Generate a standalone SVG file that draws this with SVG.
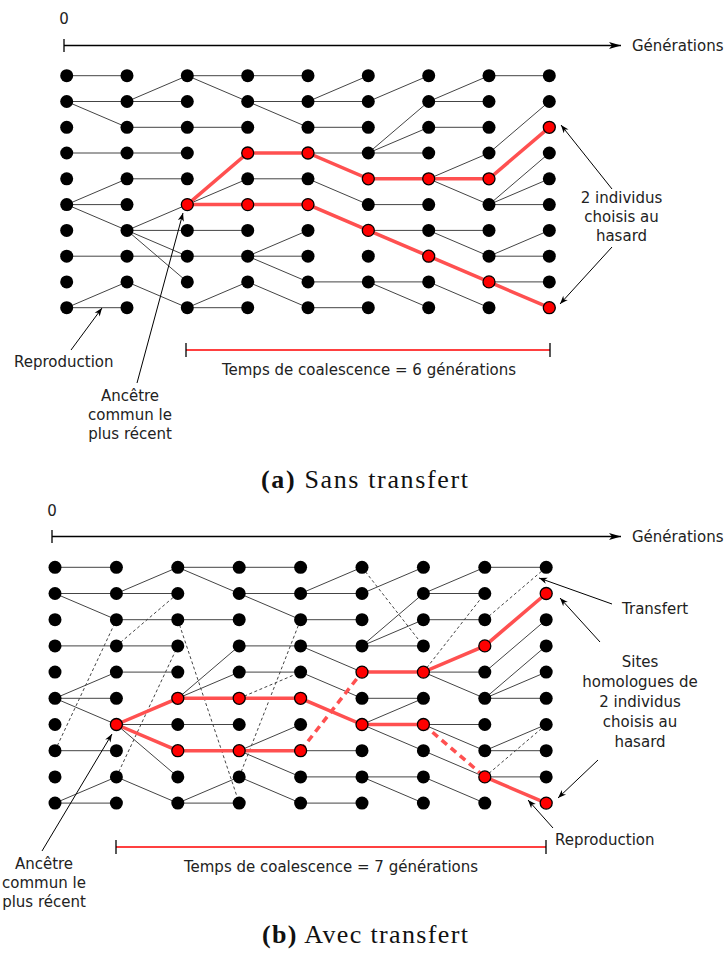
<svg xmlns="http://www.w3.org/2000/svg" width="728" height="962" viewBox="0 0 728 962">
<defs>
<style>
.e{stroke:#444;stroke-width:1;fill:none}
.d{stroke:#444;stroke-width:1;stroke-dasharray:3,2.5;fill:none}
.r{stroke:#ff5050;stroke-width:3.5;fill:none}
.rd{stroke:#ff5050;stroke-width:3.5;stroke-dasharray:7,5;fill:none}
.n{fill:#000}
.nr{fill:#ff0000;stroke:#000;stroke-width:1.3}
.ax{stroke:#000;stroke-width:1.3;fill:none}
.an{stroke:#000;stroke-width:1;fill:none}
.br{stroke:#ff0000;stroke-width:1.6}
.tk{stroke:#000;stroke-width:1.3}
text{font-family:"DejaVu Sans","Liberation Sans",sans-serif;font-size:15px;fill:#222}
.cap{font-family:"Liberation Serif","DejaVu Serif",serif;font-size:26px;fill:#111}
</style>
<marker id="big" markerUnits="userSpaceOnUse" markerWidth="14" markerHeight="10" viewBox="-13 -5 14 10" refX="0" refY="0" orient="auto"><path d="M0,0 L-12,-3.6 L-9,0 L-12,3.6 Z" fill="#000"/></marker>
<marker id="sm" markerUnits="userSpaceOnUse" markerWidth="10" markerHeight="8" viewBox="-10 -4 11 8" refX="0" refY="0" orient="auto"><path d="M0,0 L-9,-3.4 L-6.5,0 L-9,3.4 Z" fill="#000"/></marker>
</defs>
<rect width="728" height="962" fill="#fff"/>

<!-- ===== Panel (a) ===== -->
<g id="a-axis">
<text x="64" y="23.5" text-anchor="middle">0</text>
<line class="tk" x1="64" y1="39" x2="64" y2="52"/>
<line class="ax" x1="64" y1="45.5" x2="621" y2="45.5" marker-end="url(#big)"/>
<text x="632" y="51">Générations</text>
</g>

<g id="a-connectors">
<!-- c0-c1 -->
<line class="e" x1="66.7" y1="75.7" x2="127" y2="75.7"/>
<line class="e" x1="66.7" y1="101.5" x2="127" y2="101.5"/>
<line class="e" x1="66.7" y1="101.5" x2="127" y2="127.3"/>
<line class="e" x1="66.7" y1="153" x2="127" y2="153"/>
<line class="e" x1="66.7" y1="204.6" x2="127" y2="178.8"/>
<line class="e" x1="66.7" y1="204.6" x2="127" y2="204.6"/>
<line class="e" x1="66.7" y1="204.6" x2="127" y2="230.4"/>
<line class="e" x1="66.7" y1="256.2" x2="127" y2="256.2"/>
<line class="e" x1="66.7" y1="307.7" x2="127" y2="281.9"/>
<line class="e" x1="66.7" y1="307.7" x2="127" y2="307.7"/>
<!-- c1-c2 -->
<line class="e" x1="127" y1="101.5" x2="187.3" y2="75.7"/>
<line class="e" x1="127" y1="101.5" x2="187.3" y2="101.5"/>
<line class="e" x1="127" y1="127.3" x2="187.3" y2="127.3"/>
<line class="e" x1="127" y1="153" x2="187.3" y2="153"/>
<line class="e" x1="127" y1="178.8" x2="187.3" y2="178.8"/>
<line class="e" x1="127" y1="230.4" x2="187.3" y2="204.6"/>
<line class="e" x1="127" y1="230.4" x2="187.3" y2="230.4"/>
<line class="e" x1="127" y1="230.4" x2="187.3" y2="256.2"/>
<line class="e" x1="127" y1="230.4" x2="187.3" y2="281.9"/>
<line class="e" x1="127" y1="256.2" x2="187.3" y2="256.2"/>
<line class="e" x1="127" y1="281.9" x2="187.3" y2="307.7"/>
<!-- c2-c3 -->
<line class="e" x1="187.3" y1="75.7" x2="247.7" y2="75.7"/>
<line class="e" x1="187.3" y1="75.7" x2="247.7" y2="101.5"/>
<line class="e" x1="187.3" y1="127.3" x2="247.7" y2="127.3"/>
<line class="e" x1="187.3" y1="204.6" x2="247.7" y2="178.8"/>
<line class="e" x1="187.3" y1="230.4" x2="247.7" y2="230.4"/>
<line class="e" x1="187.3" y1="256.2" x2="247.7" y2="256.2"/>
<line class="e" x1="187.3" y1="307.7" x2="247.7" y2="281.9"/>
<line class="e" x1="187.3" y1="307.7" x2="247.7" y2="307.7"/>
<!-- c3-c4 -->
<line class="e" x1="247.7" y1="75.7" x2="308" y2="75.7"/>
<line class="e" x1="247.7" y1="101.5" x2="308" y2="101.5"/>
<line class="e" x1="247.7" y1="101.5" x2="308" y2="127.3"/>
<line class="e" x1="247.7" y1="178.8" x2="308" y2="178.8"/>
<line class="e" x1="247.7" y1="256.2" x2="308" y2="230.4"/>
<line class="e" x1="247.7" y1="256.2" x2="308" y2="256.2"/>
<line class="e" x1="247.7" y1="256.2" x2="308" y2="281.9"/>
<line class="e" x1="247.7" y1="281.9" x2="308" y2="307.7"/>
<!-- c4-c5 -->
<line class="e" x1="308" y1="101.5" x2="368.3" y2="75.7"/>
<line class="e" x1="308" y1="101.5" x2="368.3" y2="101.5"/>
<line class="e" x1="308" y1="127.3" x2="368.3" y2="127.3"/>
<line class="e" x1="308" y1="153" x2="368.3" y2="153"/>
<line class="e" x1="308" y1="178.8" x2="368.3" y2="204.6"/>
<line class="e" x1="308" y1="281.9" x2="368.3" y2="281.9"/>
<line class="e" x1="308" y1="307.7" x2="368.3" y2="307.7"/>
<!-- c5-c6 -->
<line class="e" x1="368.3" y1="101.5" x2="428.7" y2="75.7"/>
<line class="e" x1="368.3" y1="153" x2="428.7" y2="101.5"/>
<line class="e" x1="368.3" y1="153" x2="428.7" y2="127.3"/>
<line class="e" x1="368.3" y1="153" x2="428.7" y2="153"/>
<line class="e" x1="368.3" y1="204.6" x2="428.7" y2="204.6"/>
<line class="e" x1="368.3" y1="230.4" x2="428.7" y2="230.4"/>
<line class="e" x1="368.3" y1="281.9" x2="428.7" y2="281.9"/>
<line class="e" x1="368.3" y1="281.9" x2="428.7" y2="307.7"/>
<!-- c6-c7 -->
<line class="e" x1="428.7" y1="101.5" x2="489" y2="75.7"/>
<line class="e" x1="428.7" y1="101.5" x2="489" y2="101.5"/>
<line class="e" x1="428.7" y1="127.3" x2="489" y2="127.3"/>
<line class="e" x1="428.7" y1="178.8" x2="489" y2="153"/>
<line class="e" x1="428.7" y1="178.8" x2="489" y2="204.6"/>
<line class="e" x1="428.7" y1="230.4" x2="489" y2="230.4"/>
<line class="e" x1="428.7" y1="230.4" x2="489" y2="256.2"/>
<line class="e" x1="428.7" y1="281.9" x2="489" y2="307.7"/>
<!-- c7-c8 -->
<line class="e" x1="489" y1="75.7" x2="549.3" y2="75.7"/>
<line class="e" x1="489" y1="153" x2="549.3" y2="101.5"/>
<line class="e" x1="489" y1="204.6" x2="549.3" y2="153"/>
<line class="e" x1="489" y1="204.6" x2="549.3" y2="178.8"/>
<line class="e" x1="489" y1="204.6" x2="549.3" y2="204.6"/>
<line class="e" x1="489" y1="256.2" x2="549.3" y2="230.4"/>
<line class="e" x1="489" y1="256.2" x2="549.3" y2="256.2"/>
<line class="e" x1="489" y1="281.9" x2="549.3" y2="281.9"/>
<!-- red lineages -->
<polyline class="r" points="187.3,204.6 247.7,153 308,153 368.3,178.8 428.7,178.8 489,178.8 549.3,127.3"/>
<polyline class="r" points="187.3,204.6 247.7,204.6 308,204.6 368.3,230.4 428.7,256.2 489,281.9 549.3,307.7"/>
</g>

<g id="a-nodes">
<g id="a-0-0"><circle class="n" cx="66.7" cy="75.7" r="6.5"/></g>
<g id="a-0-1"><circle class="n" cx="66.7" cy="101.5" r="6.5"/></g>
<g id="a-0-2"><circle class="n" cx="66.7" cy="127.3" r="6.5"/></g>
<g id="a-0-3"><circle class="n" cx="66.7" cy="153" r="6.5"/></g>
<g id="a-0-4"><circle class="n" cx="66.7" cy="178.8" r="6.5"/></g>
<g id="a-0-5"><circle class="n" cx="66.7" cy="204.6" r="6.5"/></g>
<g id="a-0-6"><circle class="n" cx="66.7" cy="230.4" r="6.5"/></g>
<g id="a-0-7"><circle class="n" cx="66.7" cy="256.2" r="6.5"/></g>
<g id="a-0-8"><circle class="n" cx="66.7" cy="281.9" r="6.5"/></g>
<g id="a-0-9"><circle class="n" cx="66.7" cy="307.7" r="6.5"/></g>
<g id="a-1-0"><circle class="n" cx="127" cy="75.7" r="6.5"/></g>
<g id="a-1-1"><circle class="n" cx="127" cy="101.5" r="6.5"/></g>
<g id="a-1-2"><circle class="n" cx="127" cy="127.3" r="6.5"/></g>
<g id="a-1-3"><circle class="n" cx="127" cy="153" r="6.5"/></g>
<g id="a-1-4"><circle class="n" cx="127" cy="178.8" r="6.5"/></g>
<g id="a-1-5"><circle class="n" cx="127" cy="204.6" r="6.5"/></g>
<g id="a-1-6"><circle class="n" cx="127" cy="230.4" r="6.5"/></g>
<g id="a-1-7"><circle class="n" cx="127" cy="256.2" r="6.5"/></g>
<g id="a-1-8"><circle class="n" cx="127" cy="281.9" r="6.5"/></g>
<g id="a-1-9"><circle class="n" cx="127" cy="307.7" r="6.5"/></g>
<g id="a-2-0"><circle class="n" cx="187.3" cy="75.7" r="6.5"/></g>
<g id="a-2-1"><circle class="n" cx="187.3" cy="101.5" r="6.5"/></g>
<g id="a-2-2"><circle class="n" cx="187.3" cy="127.3" r="6.5"/></g>
<g id="a-2-3"><circle class="n" cx="187.3" cy="153" r="6.5"/></g>
<g id="a-2-4"><circle class="n" cx="187.3" cy="178.8" r="6.5"/></g>
<g id="a-2-5"><circle class="nr" cx="187.3" cy="204.6" r="6"/></g>
<g id="a-2-6"><circle class="n" cx="187.3" cy="230.4" r="6.5"/></g>
<g id="a-2-7"><circle class="n" cx="187.3" cy="256.2" r="6.5"/></g>
<g id="a-2-8"><circle class="n" cx="187.3" cy="281.9" r="6.5"/></g>
<g id="a-2-9"><circle class="n" cx="187.3" cy="307.7" r="6.5"/></g>
<g id="a-3-0"><circle class="n" cx="247.7" cy="75.7" r="6.5"/></g>
<g id="a-3-1"><circle class="n" cx="247.7" cy="101.5" r="6.5"/></g>
<g id="a-3-2"><circle class="n" cx="247.7" cy="127.3" r="6.5"/></g>
<g id="a-3-3"><circle class="nr" cx="247.7" cy="153" r="6"/></g>
<g id="a-3-4"><circle class="n" cx="247.7" cy="178.8" r="6.5"/></g>
<g id="a-3-5"><circle class="nr" cx="247.7" cy="204.6" r="6"/></g>
<g id="a-3-6"><circle class="n" cx="247.7" cy="230.4" r="6.5"/></g>
<g id="a-3-7"><circle class="n" cx="247.7" cy="256.2" r="6.5"/></g>
<g id="a-3-8"><circle class="n" cx="247.7" cy="281.9" r="6.5"/></g>
<g id="a-3-9"><circle class="n" cx="247.7" cy="307.7" r="6.5"/></g>
<g id="a-4-0"><circle class="n" cx="308" cy="75.7" r="6.5"/></g>
<g id="a-4-1"><circle class="n" cx="308" cy="101.5" r="6.5"/></g>
<g id="a-4-2"><circle class="n" cx="308" cy="127.3" r="6.5"/></g>
<g id="a-4-3"><circle class="nr" cx="308" cy="153" r="6"/></g>
<g id="a-4-4"><circle class="n" cx="308" cy="178.8" r="6.5"/></g>
<g id="a-4-5"><circle class="nr" cx="308" cy="204.6" r="6"/></g>
<g id="a-4-6"><circle class="n" cx="308" cy="230.4" r="6.5"/></g>
<g id="a-4-7"><circle class="n" cx="308" cy="256.2" r="6.5"/></g>
<g id="a-4-8"><circle class="n" cx="308" cy="281.9" r="6.5"/></g>
<g id="a-4-9"><circle class="n" cx="308" cy="307.7" r="6.5"/></g>
<g id="a-5-0"><circle class="n" cx="368.3" cy="75.7" r="6.5"/></g>
<g id="a-5-1"><circle class="n" cx="368.3" cy="101.5" r="6.5"/></g>
<g id="a-5-2"><circle class="n" cx="368.3" cy="127.3" r="6.5"/></g>
<g id="a-5-3"><circle class="n" cx="368.3" cy="153" r="6.5"/></g>
<g id="a-5-4"><circle class="nr" cx="368.3" cy="178.8" r="6"/></g>
<g id="a-5-5"><circle class="n" cx="368.3" cy="204.6" r="6.5"/></g>
<g id="a-5-6"><circle class="nr" cx="368.3" cy="230.4" r="6"/></g>
<g id="a-5-7"><circle class="n" cx="368.3" cy="256.2" r="6.5"/></g>
<g id="a-5-8"><circle class="n" cx="368.3" cy="281.9" r="6.5"/></g>
<g id="a-5-9"><circle class="n" cx="368.3" cy="307.7" r="6.5"/></g>
<g id="a-6-0"><circle class="n" cx="428.7" cy="75.7" r="6.5"/></g>
<g id="a-6-1"><circle class="n" cx="428.7" cy="101.5" r="6.5"/></g>
<g id="a-6-2"><circle class="n" cx="428.7" cy="127.3" r="6.5"/></g>
<g id="a-6-3"><circle class="n" cx="428.7" cy="153" r="6.5"/></g>
<g id="a-6-4"><circle class="nr" cx="428.7" cy="178.8" r="6"/></g>
<g id="a-6-5"><circle class="n" cx="428.7" cy="204.6" r="6.5"/></g>
<g id="a-6-6"><circle class="n" cx="428.7" cy="230.4" r="6.5"/></g>
<g id="a-6-7"><circle class="nr" cx="428.7" cy="256.2" r="6"/></g>
<g id="a-6-8"><circle class="n" cx="428.7" cy="281.9" r="6.5"/></g>
<g id="a-6-9"><circle class="n" cx="428.7" cy="307.7" r="6.5"/></g>
<g id="a-7-0"><circle class="n" cx="489" cy="75.7" r="6.5"/></g>
<g id="a-7-1"><circle class="n" cx="489" cy="101.5" r="6.5"/></g>
<g id="a-7-2"><circle class="n" cx="489" cy="127.3" r="6.5"/></g>
<g id="a-7-3"><circle class="n" cx="489" cy="153" r="6.5"/></g>
<g id="a-7-4"><circle class="nr" cx="489" cy="178.8" r="6"/></g>
<g id="a-7-5"><circle class="n" cx="489" cy="204.6" r="6.5"/></g>
<g id="a-7-6"><circle class="n" cx="489" cy="230.4" r="6.5"/></g>
<g id="a-7-7"><circle class="n" cx="489" cy="256.2" r="6.5"/></g>
<g id="a-7-8"><circle class="nr" cx="489" cy="281.9" r="6"/></g>
<g id="a-7-9"><circle class="n" cx="489" cy="307.7" r="6.5"/></g>
<g id="a-8-0"><circle class="n" cx="549.3" cy="75.7" r="6.5"/></g>
<g id="a-8-1"><circle class="n" cx="549.3" cy="101.5" r="6.5"/></g>
<g id="a-8-2"><circle class="nr" cx="549.3" cy="127.3" r="6"/></g>
<g id="a-8-3"><circle class="n" cx="549.3" cy="153" r="6.5"/></g>
<g id="a-8-4"><circle class="n" cx="549.3" cy="178.8" r="6.5"/></g>
<g id="a-8-5"><circle class="n" cx="549.3" cy="204.6" r="6.5"/></g>
<g id="a-8-6"><circle class="n" cx="549.3" cy="230.4" r="6.5"/></g>
<g id="a-8-7"><circle class="n" cx="549.3" cy="256.2" r="6.5"/></g>
<g id="a-8-8"><circle class="n" cx="549.3" cy="281.9" r="6.5"/></g>
<g id="a-8-9"><circle class="nr" cx="549.3" cy="307.7" r="6"/></g>
</g>

<g id="a-labels">
<text x="621.5" y="203" text-anchor="middle">2 individus</text>
<text x="621.5" y="222" text-anchor="middle">choisis au</text>
<text x="621.5" y="241" text-anchor="middle">hasard</text>
<line class="an" x1="612" y1="189" x2="561" y2="125" marker-end="url(#sm)"/>
<line class="an" x1="612" y1="247" x2="560" y2="304" marker-end="url(#sm)"/>
<text x="14" y="366.5">Reproduction</text>
<line class="an" x1="71" y1="350" x2="102" y2="308" marker-end="url(#sm)"/>
<text x="130" y="401" text-anchor="middle">Ancêtre</text>
<text x="130" y="420" text-anchor="middle">commun le</text>
<text x="130" y="439" text-anchor="middle">plus récent</text>
<line class="an" x1="137" y1="383" x2="183" y2="213" marker-end="url(#sm)"/>
<line class="br" x1="186" y1="350" x2="550" y2="350"/>
<line class="tk" x1="186" y1="343" x2="186" y2="357"/>
<line class="tk" x1="550" y1="343" x2="550" y2="357"/>
<text x="369" y="375" text-anchor="middle">Temps de coalescence = 6 générations</text>
<text class="cap" x="261" y="488" textLength="207" lengthAdjust="spacing"><tspan font-weight="bold">(a)</tspan> Sans transfert</text>
</g>

<!-- ===== Panel (b) ===== -->
<g id="b-axis">
<text x="52" y="516" text-anchor="middle">0</text>
<line class="tk" x1="52" y1="530" x2="52" y2="543"/>
<line class="ax" x1="52" y1="536.5" x2="621" y2="536.5" marker-end="url(#big)"/>
<text x="632" y="542">Générations</text>
</g>

<g id="b-connectors">
<!-- c0-c1 -->
<line class="e" x1="55" y1="567.3" x2="116.4" y2="567.3"/>
<line class="e" x1="55" y1="593.5" x2="116.4" y2="593.5"/>
<line class="e" x1="55" y1="593.5" x2="116.4" y2="619.7"/>
<line class="e" x1="55" y1="645.9" x2="116.4" y2="645.9"/>
<line class="e" x1="55" y1="698.3" x2="116.4" y2="672.1"/>
<line class="e" x1="55" y1="698.3" x2="116.4" y2="698.3"/>
<line class="e" x1="55" y1="698.3" x2="116.4" y2="724.5"/>
<line class="e" x1="55" y1="750.7" x2="116.4" y2="750.7"/>
<line class="e" x1="55" y1="803.1" x2="116.4" y2="776.9"/>
<line class="e" x1="55" y1="803.1" x2="116.4" y2="803.1"/>
<line class="d" x1="55" y1="750.7" x2="116.4" y2="619.7"/>
<!-- c1-c2 -->
<line class="e" x1="116.4" y1="593.5" x2="177.8" y2="567.3"/>
<line class="e" x1="116.4" y1="593.5" x2="177.8" y2="593.5"/>
<line class="e" x1="116.4" y1="619.7" x2="177.8" y2="619.7"/>
<line class="e" x1="116.4" y1="645.9" x2="177.8" y2="645.9"/>
<line class="e" x1="116.4" y1="672.1" x2="177.8" y2="672.1"/>
<line class="e" x1="116.4" y1="724.5" x2="177.8" y2="724.5"/>
<line class="e" x1="116.4" y1="724.5" x2="177.8" y2="776.9"/>
<line class="e" x1="116.4" y1="776.9" x2="177.8" y2="803.1"/>
<line class="d" x1="116.4" y1="645.9" x2="177.8" y2="593.5"/>
<line class="d" x1="116.4" y1="776.9" x2="177.8" y2="645.9"/>
<!-- c2-c3 -->
<line class="e" x1="177.8" y1="567.3" x2="239.2" y2="567.3"/>
<line class="e" x1="177.8" y1="567.3" x2="239.2" y2="593.5"/>
<line class="e" x1="177.8" y1="619.7" x2="239.2" y2="619.7"/>
<line class="e" x1="177.8" y1="698.3" x2="239.2" y2="645.9"/>
<line class="e" x1="177.8" y1="698.3" x2="239.2" y2="672.1"/>
<line class="e" x1="177.8" y1="724.5" x2="239.2" y2="724.5"/>
<line class="e" x1="177.8" y1="803.1" x2="239.2" y2="776.9"/>
<line class="e" x1="177.8" y1="803.1" x2="239.2" y2="803.1"/>
<line class="d" x1="177.8" y1="619.7" x2="239.2" y2="803.1"/>
<!-- c3-c4 -->
<line class="e" x1="239.2" y1="567.3" x2="300.6" y2="567.3"/>
<line class="e" x1="239.2" y1="593.5" x2="300.6" y2="593.5"/>
<line class="e" x1="239.2" y1="593.5" x2="300.6" y2="619.7"/>
<line class="e" x1="239.2" y1="645.9" x2="300.6" y2="645.9"/>
<line class="e" x1="239.2" y1="672.1" x2="300.6" y2="672.1"/>
<line class="e" x1="239.2" y1="750.7" x2="300.6" y2="724.5"/>
<line class="e" x1="239.2" y1="750.7" x2="300.6" y2="776.9"/>
<line class="e" x1="239.2" y1="776.9" x2="300.6" y2="803.1"/>
<line class="d" x1="239.2" y1="698.3" x2="300.6" y2="672.1"/>
<line class="d" x1="239.2" y1="776.9" x2="300.6" y2="619.7"/>
<!-- c4-c5 -->
<line class="e" x1="300.6" y1="593.5" x2="362" y2="567.3"/>
<line class="e" x1="300.6" y1="593.5" x2="362" y2="593.5"/>
<line class="e" x1="300.6" y1="619.7" x2="362" y2="619.7"/>
<line class="e" x1="300.6" y1="645.9" x2="362" y2="645.9"/>
<line class="e" x1="300.6" y1="645.9" x2="362" y2="672.1"/>
<line class="e" x1="300.6" y1="672.1" x2="362" y2="698.3"/>
<line class="e" x1="300.6" y1="750.7" x2="362" y2="750.7"/>
<line class="e" x1="300.6" y1="776.9" x2="362" y2="776.9"/>
<line class="e" x1="300.6" y1="803.1" x2="362" y2="803.1"/>
<!-- c5-c6 -->
<line class="e" x1="362" y1="593.5" x2="423.4" y2="567.3"/>
<line class="e" x1="362" y1="645.9" x2="423.4" y2="593.5"/>
<line class="e" x1="362" y1="645.9" x2="423.4" y2="619.7"/>
<line class="e" x1="362" y1="645.9" x2="423.4" y2="645.9"/>
<line class="e" x1="362" y1="698.3" x2="423.4" y2="698.3"/>
<line class="e" x1="362" y1="724.5" x2="423.4" y2="698.3"/>
<line class="e" x1="362" y1="724.5" x2="423.4" y2="750.7"/>
<line class="e" x1="362" y1="776.9" x2="423.4" y2="776.9"/>
<line class="e" x1="362" y1="776.9" x2="423.4" y2="803.1"/>
<line class="d" x1="362" y1="567.3" x2="423.4" y2="645.9"/>
<!-- c6-c7 -->
<line class="e" x1="423.4" y1="593.5" x2="484.8" y2="567.3"/>
<line class="e" x1="423.4" y1="593.5" x2="484.8" y2="593.5"/>
<line class="e" x1="423.4" y1="619.7" x2="484.8" y2="619.7"/>
<line class="e" x1="423.4" y1="672.1" x2="484.8" y2="672.1"/>
<line class="e" x1="423.4" y1="672.1" x2="484.8" y2="698.3"/>
<line class="e" x1="423.4" y1="724.5" x2="484.8" y2="724.5"/>
<line class="e" x1="423.4" y1="724.5" x2="484.8" y2="750.7"/>
<line class="e" x1="423.4" y1="750.7" x2="484.8" y2="776.9"/>
<line class="e" x1="423.4" y1="776.9" x2="484.8" y2="803.1"/>
<line class="d" x1="423.4" y1="672.1" x2="484.8" y2="593.5"/>
<!-- c7-c8 -->
<line class="e" x1="484.8" y1="567.3" x2="546.2" y2="567.3"/>
<line class="e" x1="484.8" y1="672.1" x2="546.2" y2="619.7"/>
<line class="e" x1="484.8" y1="698.3" x2="546.2" y2="645.9"/>
<line class="e" x1="484.8" y1="698.3" x2="546.2" y2="672.1"/>
<line class="e" x1="484.8" y1="698.3" x2="546.2" y2="698.3"/>
<line class="e" x1="484.8" y1="750.7" x2="546.2" y2="724.5"/>
<line class="e" x1="484.8" y1="750.7" x2="546.2" y2="750.7"/>
<line class="e" x1="484.8" y1="776.9" x2="546.2" y2="776.9"/>
<line class="d" x1="484.8" y1="619.7" x2="546.2" y2="567.3"/>
<line class="d" x1="484.8" y1="776.9" x2="546.2" y2="724.5"/>
<!-- red lineages -->
<polyline class="r" points="116.4,724.5 177.8,698.3 239.2,698.3 300.6,698.3 362,724.5 423.4,724.5"/>
<line class="rd" x1="423.4" y1="724.5" x2="484.8" y2="776.9"/>
<line class="r" x1="484.8" y1="776.9" x2="546.2" y2="803.1"/>
<polyline class="r" points="116.4,724.5 177.8,750.7 239.2,750.7 300.6,750.7"/>
<line class="rd" x1="300.6" y1="750.7" x2="362" y2="672.1"/>
<polyline class="r" points="362,672.1 423.4,672.1 484.8,645.9 546.2,593.5"/>
</g>

<g id="b-nodes">
<g id="b-0-0"><circle class="n" cx="55" cy="567.3" r="6.5"/></g>
<g id="b-0-1"><circle class="n" cx="55" cy="593.5" r="6.5"/></g>
<g id="b-0-2"><circle class="n" cx="55" cy="619.7" r="6.5"/></g>
<g id="b-0-3"><circle class="n" cx="55" cy="645.9" r="6.5"/></g>
<g id="b-0-4"><circle class="n" cx="55" cy="672.1" r="6.5"/></g>
<g id="b-0-5"><circle class="n" cx="55" cy="698.3" r="6.5"/></g>
<g id="b-0-6"><circle class="n" cx="55" cy="724.5" r="6.5"/></g>
<g id="b-0-7"><circle class="n" cx="55" cy="750.7" r="6.5"/></g>
<g id="b-0-8"><circle class="n" cx="55" cy="776.9" r="6.5"/></g>
<g id="b-0-9"><circle class="n" cx="55" cy="803.1" r="6.5"/></g>
<g id="b-1-0"><circle class="n" cx="116.4" cy="567.3" r="6.5"/></g>
<g id="b-1-1"><circle class="n" cx="116.4" cy="593.5" r="6.5"/></g>
<g id="b-1-2"><circle class="n" cx="116.4" cy="619.7" r="6.5"/></g>
<g id="b-1-3"><circle class="n" cx="116.4" cy="645.9" r="6.5"/></g>
<g id="b-1-4"><circle class="n" cx="116.4" cy="672.1" r="6.5"/></g>
<g id="b-1-5"><circle class="n" cx="116.4" cy="698.3" r="6.5"/></g>
<g id="b-1-6"><circle class="nr" cx="116.4" cy="724.5" r="6"/></g>
<g id="b-1-7"><circle class="n" cx="116.4" cy="750.7" r="6.5"/></g>
<g id="b-1-8"><circle class="n" cx="116.4" cy="776.9" r="6.5"/></g>
<g id="b-1-9"><circle class="n" cx="116.4" cy="803.1" r="6.5"/></g>
<g id="b-2-0"><circle class="n" cx="177.8" cy="567.3" r="6.5"/></g>
<g id="b-2-1"><circle class="n" cx="177.8" cy="593.5" r="6.5"/></g>
<g id="b-2-2"><circle class="n" cx="177.8" cy="619.7" r="6.5"/></g>
<g id="b-2-3"><circle class="n" cx="177.8" cy="645.9" r="6.5"/></g>
<g id="b-2-4"><circle class="n" cx="177.8" cy="672.1" r="6.5"/></g>
<g id="b-2-5"><circle class="nr" cx="177.8" cy="698.3" r="6"/></g>
<g id="b-2-6"><circle class="n" cx="177.8" cy="724.5" r="6.5"/></g>
<g id="b-2-7"><circle class="nr" cx="177.8" cy="750.7" r="6"/></g>
<g id="b-2-8"><circle class="n" cx="177.8" cy="776.9" r="6.5"/></g>
<g id="b-2-9"><circle class="n" cx="177.8" cy="803.1" r="6.5"/></g>
<g id="b-3-0"><circle class="n" cx="239.2" cy="567.3" r="6.5"/></g>
<g id="b-3-1"><circle class="n" cx="239.2" cy="593.5" r="6.5"/></g>
<g id="b-3-2"><circle class="n" cx="239.2" cy="619.7" r="6.5"/></g>
<g id="b-3-3"><circle class="n" cx="239.2" cy="645.9" r="6.5"/></g>
<g id="b-3-4"><circle class="n" cx="239.2" cy="672.1" r="6.5"/></g>
<g id="b-3-5"><circle class="nr" cx="239.2" cy="698.3" r="6"/></g>
<g id="b-3-6"><circle class="n" cx="239.2" cy="724.5" r="6.5"/></g>
<g id="b-3-7"><circle class="nr" cx="239.2" cy="750.7" r="6"/></g>
<g id="b-3-8"><circle class="n" cx="239.2" cy="776.9" r="6.5"/></g>
<g id="b-3-9"><circle class="n" cx="239.2" cy="803.1" r="6.5"/></g>
<g id="b-4-0"><circle class="n" cx="300.6" cy="567.3" r="6.5"/></g>
<g id="b-4-1"><circle class="n" cx="300.6" cy="593.5" r="6.5"/></g>
<g id="b-4-2"><circle class="n" cx="300.6" cy="619.7" r="6.5"/></g>
<g id="b-4-3"><circle class="n" cx="300.6" cy="645.9" r="6.5"/></g>
<g id="b-4-4"><circle class="n" cx="300.6" cy="672.1" r="6.5"/></g>
<g id="b-4-5"><circle class="nr" cx="300.6" cy="698.3" r="6"/></g>
<g id="b-4-6"><circle class="n" cx="300.6" cy="724.5" r="6.5"/></g>
<g id="b-4-7"><circle class="nr" cx="300.6" cy="750.7" r="6"/></g>
<g id="b-4-8"><circle class="n" cx="300.6" cy="776.9" r="6.5"/></g>
<g id="b-4-9"><circle class="n" cx="300.6" cy="803.1" r="6.5"/></g>
<g id="b-5-0"><circle class="n" cx="362" cy="567.3" r="6.5"/></g>
<g id="b-5-1"><circle class="n" cx="362" cy="593.5" r="6.5"/></g>
<g id="b-5-2"><circle class="n" cx="362" cy="619.7" r="6.5"/></g>
<g id="b-5-3"><circle class="n" cx="362" cy="645.9" r="6.5"/></g>
<g id="b-5-4"><circle class="nr" cx="362" cy="672.1" r="6"/></g>
<g id="b-5-5"><circle class="n" cx="362" cy="698.3" r="6.5"/></g>
<g id="b-5-6"><circle class="nr" cx="362" cy="724.5" r="6"/></g>
<g id="b-5-7"><circle class="n" cx="362" cy="750.7" r="6.5"/></g>
<g id="b-5-8"><circle class="n" cx="362" cy="776.9" r="6.5"/></g>
<g id="b-5-9"><circle class="n" cx="362" cy="803.1" r="6.5"/></g>
<g id="b-6-0"><circle class="n" cx="423.4" cy="567.3" r="6.5"/></g>
<g id="b-6-1"><circle class="n" cx="423.4" cy="593.5" r="6.5"/></g>
<g id="b-6-2"><circle class="n" cx="423.4" cy="619.7" r="6.5"/></g>
<g id="b-6-3"><circle class="n" cx="423.4" cy="645.9" r="6.5"/></g>
<g id="b-6-4"><circle class="nr" cx="423.4" cy="672.1" r="6"/></g>
<g id="b-6-5"><circle class="n" cx="423.4" cy="698.3" r="6.5"/></g>
<g id="b-6-6"><circle class="nr" cx="423.4" cy="724.5" r="6"/></g>
<g id="b-6-7"><circle class="n" cx="423.4" cy="750.7" r="6.5"/></g>
<g id="b-6-8"><circle class="n" cx="423.4" cy="776.9" r="6.5"/></g>
<g id="b-6-9"><circle class="n" cx="423.4" cy="803.1" r="6.5"/></g>
<g id="b-7-0"><circle class="n" cx="484.8" cy="567.3" r="6.5"/></g>
<g id="b-7-1"><circle class="n" cx="484.8" cy="593.5" r="6.5"/></g>
<g id="b-7-2"><circle class="n" cx="484.8" cy="619.7" r="6.5"/></g>
<g id="b-7-3"><circle class="nr" cx="484.8" cy="645.9" r="6"/></g>
<g id="b-7-4"><circle class="n" cx="484.8" cy="672.1" r="6.5"/></g>
<g id="b-7-5"><circle class="n" cx="484.8" cy="698.3" r="6.5"/></g>
<g id="b-7-6"><circle class="n" cx="484.8" cy="724.5" r="6.5"/></g>
<g id="b-7-7"><circle class="n" cx="484.8" cy="750.7" r="6.5"/></g>
<g id="b-7-8"><circle class="nr" cx="484.8" cy="776.9" r="6"/></g>
<g id="b-7-9"><circle class="n" cx="484.8" cy="803.1" r="6.5"/></g>
<g id="b-8-0"><circle class="n" cx="546.2" cy="567.3" r="6.5"/></g>
<g id="b-8-1"><circle class="nr" cx="546.2" cy="593.5" r="6"/></g>
<g id="b-8-2"><circle class="n" cx="546.2" cy="619.7" r="6.5"/></g>
<g id="b-8-3"><circle class="n" cx="546.2" cy="645.9" r="6.5"/></g>
<g id="b-8-4"><circle class="n" cx="546.2" cy="672.1" r="6.5"/></g>
<g id="b-8-5"><circle class="n" cx="546.2" cy="698.3" r="6.5"/></g>
<g id="b-8-6"><circle class="n" cx="546.2" cy="724.5" r="6.5"/></g>
<g id="b-8-7"><circle class="n" cx="546.2" cy="750.7" r="6.5"/></g>
<g id="b-8-8"><circle class="n" cx="546.2" cy="776.9" r="6.5"/></g>
<g id="b-8-9"><circle class="nr" cx="546.2" cy="803.1" r="6"/></g>
</g>

<g id="b-labels">
<text x="622" y="614">Transfert</text>
<line class="an" x1="612" y1="604" x2="539" y2="578" marker-end="url(#sm)"/>
<text x="640" y="667" text-anchor="middle">Sites</text>
<text x="640" y="687" text-anchor="middle">homologues de</text>
<text x="640" y="707" text-anchor="middle">2 individus</text>
<text x="640" y="727" text-anchor="middle">choisis au</text>
<text x="640" y="747" text-anchor="middle">hasard</text>
<line class="an" x1="600" y1="642" x2="560" y2="598" marker-end="url(#sm)"/>
<line class="an" x1="598" y1="760" x2="558" y2="798" marker-end="url(#sm)"/>
<text x="555" y="845">Reproduction</text>
<line class="an" x1="553" y1="828" x2="528" y2="800" marker-end="url(#sm)"/>
<text x="44" y="869" text-anchor="middle">Ancêtre</text>
<text x="44" y="888" text-anchor="middle">commun le</text>
<text x="44" y="907" text-anchor="middle">plus récent</text>
<line class="an" x1="42" y1="851" x2="112" y2="734" marker-end="url(#sm)"/>
<line class="br" x1="116" y1="847" x2="546" y2="847"/>
<line class="tk" x1="116" y1="840" x2="116" y2="854"/>
<line class="tk" x1="546" y1="840" x2="546" y2="854"/>
<text x="331" y="872" text-anchor="middle">Temps de coalescence = 7 générations</text>
<text class="cap" x="262" y="943" textLength="206" lengthAdjust="spacing"><tspan font-weight="bold">(b)</tspan> Avec transfert</text>
</g>
</svg>
